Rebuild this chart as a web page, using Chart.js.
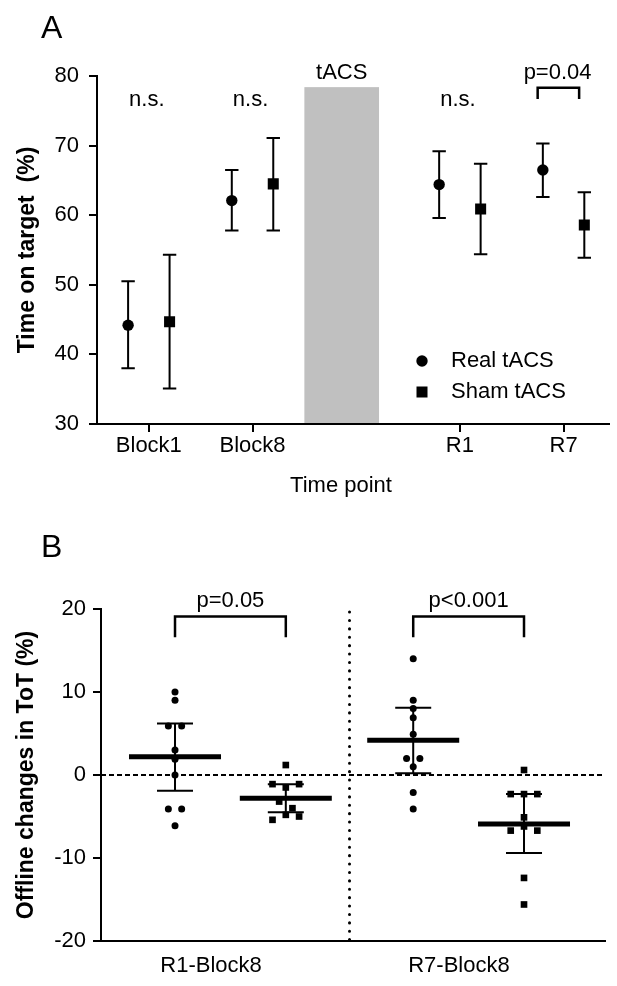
<!DOCTYPE html>
<html><head><meta charset="utf-8">
<script src="https://cdn.jsdelivr.net/npm/chart.js@4.4.1/dist/chart.umd.min.js"></script>
<style>
html,body{margin:0;padding:0;background:#fff;overflow:hidden;}
#cA{position:absolute;left:0;top:0;}
#cB{position:absolute;left:0;top:505px;}
</style></head><body>
<canvas id="cA" width="617" height="505"></canvas>
<canvas id="cB" width="617" height="481"></canvas>
<script>
// ---------- Panel A data ----------
const timePoints = ['Block1', 'Block8', 'R1', 'R7'];
const timePointPos = [1, 2, 4, 5];
const realMean = [44.2, 62.1, 64.4, 66.5];
const realLow  = [38.0, 57.8, 59.6, 62.6];
const realHigh = [50.5, 66.5, 69.2, 70.3];
const shamMean = [44.7, 64.5, 60.9, 58.6];
const shamLow  = [35.1, 57.8, 54.4, 53.9];
const shamHigh = [54.3, 71.1, 67.4, 63.3];
const yTicksA = [30, 40, 50, 60, 70, 80];
const sigA = ['n.s.', 'n.s.', 'n.s.', 'p=0.04'];
const seriesNames = ['Real tACS', 'Sham tACS'];

// ---------- Panel B data ----------
const changeLabels = ['R1-Block8', 'R7-Block8'];
const realR1 = [10.0, 9.0, 5.9, 5.9, 3.0, 1.9, 0.0, -4.1, -4.1, -6.1];
const shamR1 = [1.2, -1.1, -1.1, -1.5, -3.2, -4.0, -4.8, -5.0, -5.4];
const realR7 = [14.0, 9.0, 8.0, 6.9, 4.9, 2.0, 2.0, 1.0, -2.1, -4.1];
const shamR7 = [0.6, -2.3, -2.3, -2.3, -5.1, -6.2, -6.7, -6.7, -12.4, -15.6];
const groupMean = [2.2, -2.8, 4.2, -5.9];
const groupCILow = [-1.9, -4.5, 0.2, -9.4];
const groupCIHigh = [6.2, -1.1, 8.1, -2.3];
const yTicksB = [-20, -10, 0, 10, 20];
const sigB = ['p=0.05', 'p<0.001'];

const FONT = '"Liberation Sans", Arial, Helvetica, sans-serif';

// ---------- Panel A layout (axis units) ----------
const offA = 0.2;                 // real left, sham right of each time point
const tacsBand = [2.5, 3.22];     // x range of grey tACS band
const tacsTop = 78.4;
const nsY = 76.5, pY = 80.4, brTop = 78.3, brLeg = 76.7;

const plugA = {
  id: 'plugA',
  beforeDatasetsDraw(chart) {
    const {ctx, scales: {x, y}} = chart;
    ctx.save();
    ctx.fillStyle = '#c0c0c0';
    const x0 = x.getPixelForValue(tacsBand[0]), x1 = x.getPixelForValue(tacsBand[1]);
    const yt = y.getPixelForValue(tacsTop), yb = y.getPixelForValue(30) - 1;
    ctx.fillRect(x0, yt, x1 - x0, yb - yt);
    ctx.strokeStyle = '#000'; ctx.lineWidth = 2;
    const bars = [[realLow, realHigh, -offA], [shamLow, shamHigh, offA]];
    bars.forEach(([lo, hi, o]) => {
      timePointPos.forEach((p, i) => {
        const px = x.getPixelForValue(p + o);
        const yl = y.getPixelForValue(lo[i]), yh = y.getPixelForValue(hi[i]);
        ctx.beginPath();
        ctx.moveTo(px, yl); ctx.lineTo(px, yh);
        ctx.moveTo(px - 6.7, yl); ctx.lineTo(px + 6.7, yl);
        ctx.moveTo(px - 6.7, yh); ctx.lineTo(px + 6.7, yh);
        ctx.stroke();
      });
    });
    ctx.restore();
  },
  afterDraw(chart) {
    const {ctx, scales: {x, y}} = chart;
    ctx.save();
    ctx.fillStyle = '#000';
    ctx.textBaseline = 'middle';
    ctx.textAlign = 'left';
    ctx.font = '32px ' + FONT;
    ctx.fillText('A', 41, 29);
    ctx.textAlign = 'center';
    ctx.font = '22px ' + FONT;
    sigA.forEach((s, i) => {
      const px = x.getPixelForValue(timePointPos[i]);
      if (s === 'n.s.') {
        ctx.fillText(s, px - 2, y.getPixelForValue(nsY));
      } else {
        ctx.fillText(s, px - 6, y.getPixelForValue(pY));
        const bx0 = x.getPixelForValue(timePointPos[i] - 0.25), bx1 = x.getPixelForValue(timePointPos[i] + 0.15);
        const bt = y.getPixelForValue(brTop), bl = y.getPixelForValue(brLeg);
        ctx.strokeStyle = '#000'; ctx.lineWidth = 2.5;
        ctx.beginPath();
        ctx.moveTo(bx0, bl); ctx.lineTo(bx0, bt); ctx.lineTo(bx1, bt); ctx.lineTo(bx1, bl);
        ctx.stroke();
      }
    });
    ctx.fillText('tACS', x.getPixelForValue((tacsBand[0] + tacsBand[1]) / 2), y.getPixelForValue(pY));
    // legend
    ctx.textAlign = 'left';
    ctx.beginPath(); ctx.arc(422, 361, 5.7, 0, Math.PI * 2); ctx.fill();
    ctx.fillRect(416.5, 386.5, 11, 11);
    ctx.fillText(seriesNames[0], 451, 361);
    ctx.fillText(seriesNames[1], 451, 392);
    // axis titles
    ctx.textAlign = 'center';
    ctx.fillText('Time point', 341, 486);
    ctx.translate(28, 250);
    ctx.rotate(-Math.PI / 2);
    ctx.font = 'bold 23px ' + FONT;
    ctx.fillText('Time on target  (%)', 0, 0);
    ctx.restore();
  }
};

new Chart(document.getElementById('cA'), {
  type: 'scatter',
  data: {
    datasets: [
      { label: seriesNames[0], data: timePointPos.map((p, i) => ({x: p - offA, y: realMean[i]})),
        pointStyle: 'circle', pointRadius: 5.7, backgroundColor: '#000', borderWidth: 0 },
      { label: seriesNames[1], data: timePointPos.map((p, i) => ({x: p + offA, y: shamMean[i]})),
        pointStyle: 'rect', pointRadius: 7.8, backgroundColor: '#000', borderWidth: 0 }
    ]
  },
  options: {
    responsive: false, animation: false, events: [],
    layout: { padding: { top: 76, right: 7, left: 0, bottom: 0 } },
    plugins: { legend: { display: false }, tooltip: { enabled: false } },
    scales: {
      x: {
        type: 'linear', min: 0.5, max: 5.44,
        afterBuildTicks: s => { s.ticks = timePointPos.map(v => ({value: v})); },
        afterFit: s => { s.height = 81; },
        ticks: { callback: v => timePoints[timePointPos.indexOf(v)], font: {family: FONT, size: 22}, color: '#000', padding: 1, maxRotation: 0, autoSkip: false },
        grid: { drawOnChartArea: false, drawTicks: true, tickLength: 8, color: '#000', lineWidth: 2 },
        border: { color: '#000', width: 2 }
      },
      y: {
        min: 30, max: 80,
        afterBuildTicks: s => { s.ticks = yTicksA.map(v => ({value: v})); },
        afterFit: s => { s.width = 97; },
        ticks: { font: {family: FONT, size: 22}, color: '#000', padding: 10 },
        grid: { drawOnChartArea: false, drawTicks: true, tickLength: 8, color: '#000', lineWidth: 2 },
        border: { color: '#000', width: 2 }
      }
    }
  },
  plugins: [plugA]
});

// ---------- Panel B ----------
const colPos = [1, 2, 3.15, 4.15];        // real R1, sham R1, real R7, sham R7
const labelPos = [1.325, 3.563];
const dividerX = 2.575;
const brTopB = 19.1, brLegB = 16.6, pYB = 21.0;

function swarm(values, center, step, thr) {
  const idx = values.map((v, i) => i).sort((a, b) => values[b] - values[a]);
  const pts = new Array(values.length);
  let i = 0;
  while (i < idx.length) {
    const row = [idx[i]]; let j = i + 1;
    while (j < idx.length && values[idx[i]] - values[idx[j]] < thr) { row.push(idx[j]); j++; }
    if (row.length % 2 === 1) {
      const counts = {};
      row.forEach(k => counts[values[k]] = (counts[values[k]] || 0) + 1);
      let c = row.find(k => counts[values[k]] === 1);
      if (c === undefined) c = row[0];
      const rest = row.filter(k => k !== c);
      pts[c] = {x: center, y: values[c]};
      rest.forEach((k, n) => {
        const lvl = Math.floor(n / 2) + 1, sgn = n % 2 === 0 ? 1 : -1;
        pts[k] = {x: center + sgn * lvl * step, y: values[k]};
      });
    } else {
      row.forEach((k, n) => { pts[k] = {x: center + (n - (row.length - 1) / 2) * step, y: values[k]}; });
    }
    i = j;
  }
  return pts;
}
const STEP = 0.12, THR = 0.85;

const plugB = {
  id: 'plugB',
  beforeDatasetsDraw(chart) {
    const {ctx, chartArea: ca, scales: {x, y}} = chart;
    ctx.save();
    ctx.strokeStyle = '#000';
    // zero dashed line
    ctx.lineWidth = 1.8; ctx.setLineDash([5, 3]);
    const y0 = y.getPixelForValue(0);
    ctx.beginPath(); ctx.moveTo(ca.left, y0); ctx.lineTo(ca.right, y0); ctx.stroke();
    // dotted divider
    ctx.setLineDash([0.1, 8.3]); ctx.lineCap = 'round'; ctx.lineWidth = 3;
    const dx = x.getPixelForValue(dividerX);
    ctx.beginPath(); ctx.moveTo(dx, ca.top + 3); ctx.lineTo(dx, ca.bottom); ctx.stroke();
    ctx.setLineDash([]); ctx.lineCap = 'butt';
    // means and CI
    colPos.forEach((p, i) => {
      const px = x.getPixelForValue(p);
      ctx.lineWidth = 5;
      const ym = y.getPixelForValue(groupMean[i]);
      ctx.beginPath(); ctx.moveTo(px - 46, ym); ctx.lineTo(px + 46, ym); ctx.stroke();
      ctx.lineWidth = 2;
      const yl = y.getPixelForValue(groupCILow[i]), yh = y.getPixelForValue(groupCIHigh[i]);
      ctx.beginPath();
      ctx.moveTo(px, yl); ctx.lineTo(px, yh);
      ctx.moveTo(px - 18, yl); ctx.lineTo(px + 18, yl);
      ctx.moveTo(px - 18, yh); ctx.lineTo(px + 18, yh);
      ctx.stroke();
    });
    ctx.restore();
  },
  afterDraw(chart) {
    const {ctx, scales: {x, y}} = chart;
    ctx.save();
    ctx.fillStyle = '#000'; ctx.strokeStyle = '#000';
    ctx.textBaseline = 'middle';
    ctx.font = '32px ' + FONT;
    ctx.fillText('B', 41, 43);
    ctx.textAlign = 'center';
    ctx.font = '22px ' + FONT;
    sigB.forEach((s, g) => {
      const a = colPos[2 * g], b = colPos[2 * g + 1];
      const xa = x.getPixelForValue(a), xb = x.getPixelForValue(b);
      const bt = y.getPixelForValue(brTopB), bl = y.getPixelForValue(brLegB);
      ctx.lineWidth = 2.5;
      ctx.beginPath(); ctx.moveTo(xa, bl); ctx.lineTo(xa, bt); ctx.lineTo(xb, bt); ctx.lineTo(xb, bl); ctx.stroke();
      ctx.fillText(s, (xa + xb) / 2, y.getPixelForValue(pYB));
    });
    ctx.translate(27, 270);
    ctx.rotate(-Math.PI / 2);
    ctx.font = 'bold 23px ' + FONT;
    ctx.fillText('Offline changes in ToT (%)', 0, 0);
    ctx.restore();
  }
};

new Chart(document.getElementById('cB'), {
  type: 'scatter',
  data: {
    datasets: [
      { data: swarm(realR1, colPos[0], STEP, THR), pointStyle: 'circle', pointRadius: 3.5, backgroundColor: '#000', borderWidth: 0 },
      { data: swarm(shamR1, colPos[1], STEP, THR), pointStyle: 'rect', pointRadius: 4.7, backgroundColor: '#000', borderWidth: 0 },
      { data: swarm(realR7, colPos[2], STEP, THR), pointStyle: 'circle', pointRadius: 3.5, backgroundColor: '#000', borderWidth: 0 },
      { data: swarm(shamR7, colPos[3], STEP, THR), pointStyle: 'rect', pointRadius: 4.7, backgroundColor: '#000', borderWidth: 0 }
    ]
  },
  options: {
    responsive: false, animation: false, events: [],
    layout: { padding: { top: 104, right: 12, left: 0, bottom: 0 } },
    plugins: { legend: { display: false }, tooltip: { enabled: false } },
    scales: {
      x: {
        type: 'linear', min: 0.332, max: 4.881,
        afterBuildTicks: s => { s.ticks = labelPos.map(v => ({value: v})); },
        afterFit: s => { s.height = 45; },
        ticks: { callback: v => changeLabels[labelPos.indexOf(v)], font: {family: FONT, size: 22}, color: '#000', padding: 12, maxRotation: 0, autoSkip: false },
        grid: { drawOnChartArea: false, drawTicks: false, color: '#000', lineWidth: 2 },
        border: { color: '#000', width: 2 }
      },
      y: {
        min: -20, max: 20,
        afterBuildTicks: s => { s.ticks = yTicksB.map(v => ({value: v})); },
        afterFit: s => { s.width = 101; },
        ticks: { font: {family: FONT, size: 22}, color: '#000', padding: 7 },
        grid: { drawOnChartArea: false, drawTicks: true, tickLength: 8, color: '#000', lineWidth: 2 },
        border: { color: '#000', width: 2 }
      }
    }
  },
  plugins: [plugB]
});
</script>
</body></html>
